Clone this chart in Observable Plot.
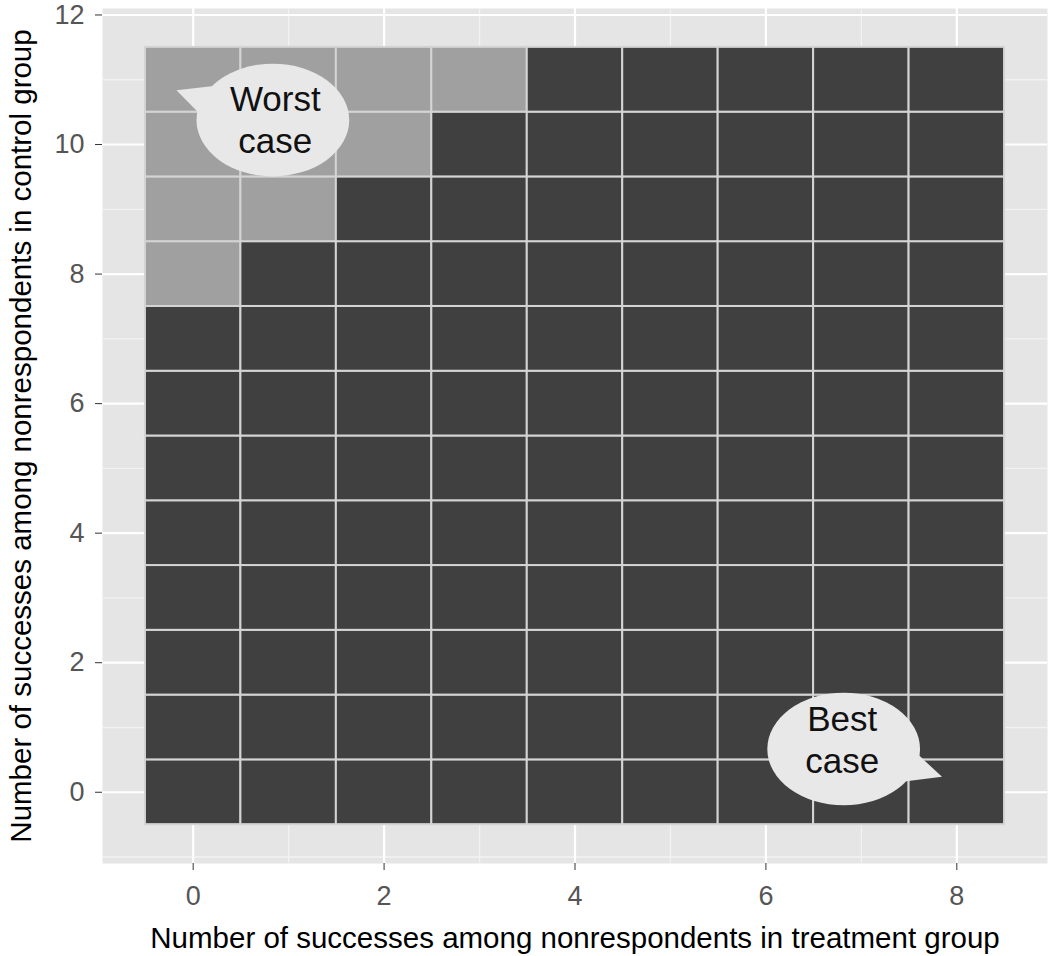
<!DOCTYPE html>
<html>
<head>
<meta charset="utf-8">
<script src="https://cdn.jsdelivr.net/npm/d3@7"></script>
<script src="https://cdn.jsdelivr.net/npm/@observablehq/plot@0.6"></script>
<style>
  html, body { margin: 0; padding: 0; background: #ffffff; }
  #chart { width: 1050px; height: 956px; }
</style>
</head>
<body>
<div id="chart"></div>
<script>
// ---- data ----
const treatmentSuccesses = [0, 1, 2, 3, 4, 5, 6, 7, 8];          // x categories
const controlSuccesses = [0, 1, 2, 3, 4, 5, 6, 7, 8, 9, 10, 11];  // y categories
// rows in the upper-left (light) region: control value and how many treatment values
const lightRowControl = [8, 9, 10, 11];
const lightRowCount = [1, 2, 3, 4];
const xTicks = [0, 2, 4, 6, 8];
const yTicks = [0, 2, 4, 6, 8, 10, 12];
const xMinor = [1, 3, 5, 7];
const yMinor = [-1, 1, 3, 5, 7, 9, 11];
const groups = ["upper-left", "other"];
const bubbleLabels = ["Worst\ncase", "Best\ncase"];
const bubbleAtX = [0.84, 6.82];
const bubbleAtY = [10.37, 0.66];
const bubbleTextX = [0.86, 6.80];
const bubbleTextY = [10.40, 0.83];
const bubbleTipX = [-0.17, 7.85];
const bubbleTipY = [10.83, 0.23];

const xTitle = "Number of successes among nonrespondents in treatment group";
const yTitle = "Number of successes among nonrespondents in control group";

// ---- build tables ----
const cells = controlSuccesses.flatMap(y => treatmentSuccesses.map(x => {
  const i = lightRowControl.indexOf(y);
  const group = (i >= 0 && x < lightRowCount[i]) ? groups[0] : groups[1];
  return {x, y, group};
}));
const bubbles = bubbleLabels.map((label, i) => ({
  label, x: bubbleAtX[i], y: bubbleAtY[i], tx: bubbleTextX[i], ty: bubbleTextY[i],
  tipX: bubbleTipX[i], tipY: bubbleTipY[i]
}));

// ---- speech bubble render (ellipse + tail) ----
const bubbleFill = "#e8e8e8";
const bubbleRx = 0.80, bubbleRy = 0.87; // in data units
function bubbleMark(index, scales) {
  const g = d3.create("svg:g");
  for (const b of bubbles) {
    const cx = scales.x(b.x), cy = scales.y(b.y);
    const rx = Math.abs(scales.x(b.x + bubbleRx) - cx);
    const ry = Math.abs(scales.y(b.y + bubbleRy) - cy);
    const tx = scales.x(b.tipX), ty = scales.y(b.tipY);
    const ang = Math.atan2((ty - cy) / ry, (tx - cx) / rx);
    const spread = 14 * Math.PI / 180;
    const p1 = [cx + rx * Math.cos(ang - spread), cy + ry * Math.sin(ang - spread)];
    const p2 = [cx + rx * Math.cos(ang + spread), cy + ry * Math.sin(ang + spread)];
    g.append("ellipse").attr("cx", cx).attr("cy", cy).attr("rx", rx).attr("ry", ry)
      .attr("fill", bubbleFill);
    g.append("path")
      .attr("d", `M${p1[0]},${p1[1]}L${tx},${ty}L${p2[0]},${p2[1]}L${cx},${cy}Z`)
      .attr("fill", bubbleFill);
  }
  return g.node();
}

const font = "'Liberation Sans', Arial, Helvetica, sans-serif";

const chart = Plot.plot({
  width: 1050,
  height: 956,
  marginLeft: 102,
  marginRight: 3,
  marginTop: 8,
  marginBottom: 93,
  style: {fontFamily: font, background: "#ffffff"},
  x: {type: "linear", domain: [-0.95, 8.95]},
  y: {type: "linear", domain: [-1.1, 12.1]},
  color: {domain: groups, range: ["#a0a0a0", "#404040"]},
  marks: [
    Plot.frame({fill: "#e5e5e5", stroke: null}),
    Plot.ruleX(xMinor, {stroke: "#f2f2f2", strokeWidth: 1.3}),
    Plot.ruleY(yMinor, {stroke: "#f2f2f2", strokeWidth: 1.3}),
    Plot.ruleX(xTicks, {stroke: "#ffffff", strokeWidth: 2.2}),
    Plot.ruleY(yTicks, {stroke: "#ffffff", strokeWidth: 2.2}),
    Plot.rect(cells, {
      x1: d => d.x - 0.5, x2: d => d.x + 0.5,
      y1: d => d.y - 0.5, y2: d => d.y + 0.5,
      fill: "group", stroke: "#d4d4d4", strokeWidth: 2
    }),
    bubbleMark,
    Plot.text(bubbles, {
      x: "tx", y: "ty", text: "label", fontSize: 35, lineHeight: 1.2,
      fill: "#111111", textAnchor: "middle", lineAnchor: "middle"
    }),
    Plot.axisX(xTicks, {
      tickSize: 7, tickPadding: 15, fontSize: 27, stroke: "#333333", fill: "#555555",
      label: null, tickFormat: d => String(d)
    }),
    Plot.axisY(yTicks, {
      tickSize: 7, tickPadding: 11, fontSize: 27, stroke: "#333333", fill: "#555555",
      label: null, tickFormat: d => String(d)
    }),
    Plot.text([xTitle], {
      frameAnchor: "bottom", dy: 84, fontSize: 29.5, fill: "#000000", lineAnchor: "bottom",
      textAnchor: "middle"
    }),
    Plot.text([yTitle], {
      frameAnchor: "left", dx: -72, rotate: -90, fontSize: 29.5, fill: "#000000", lineAnchor: "bottom",
      textAnchor: "middle"
    })
  ]
});
document.getElementById("chart").appendChild(chart);
</script>
</body>
</html>
